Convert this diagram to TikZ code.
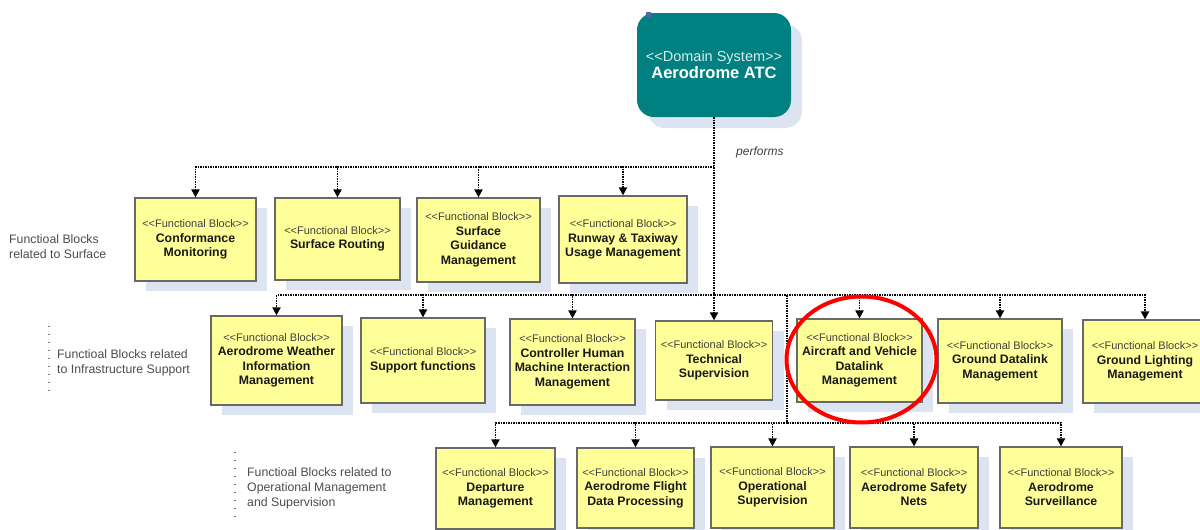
\documentclass[tikz,border=0pt]{standalone}
\usepackage{fontspec}
\setmainfont{Liberation Sans}
\usetikzlibrary{arrows.meta,shadows}
\definecolor{domteal}{RGB}{0,128,128}
\definecolor{fbyellow}{RGB}{255,255,153}
\definecolor{fbline}{RGB}{105,105,105}
\definecolor{shade}{RGB}{220,227,241}
\definecolor{marker}{RGB}{85,100,160}
\newcommand{\fbk}{{\mdseries\fontsize{11}{14.5}\selectfont\color{black!75}<\kern0pt<Functional Block>\kern0pt>}\\}
\begin{document}
\begin{tikzpicture}[x=1pt, y=-1pt, >={Triangle[width=8pt,length=8pt]},
      dom/.style={fill=domteal, rounded corners=17pt, minimum width=154pt, minimum height=104pt,
        drop shadow={shadow xshift=11pt, shadow yshift=-11pt, fill=shade, opacity=1}},
      domtext/.style={align=center, inner sep=0pt, text=domteal!15, font=\fontsize{14.5}{17}\selectfont},
      fb/.style={draw=fbline, line width=1.2pt, fill=fbyellow, align=center, inner sep=2pt,
        font=\fontsize{12.3}{14.5}\selectfont\bfseries, text=black!90,
        drop shadow={shadow xshift=11pt, shadow yshift=-10pt, fill=shade, opacity=1}},
      link/.style={line width=1.9pt, dash pattern=on 1.5pt off 1pt},
      side/.style={anchor=west, align=left, inner sep=0pt, text=black!70, font=\fontsize{12.3}{15.2}\selectfont},
      sidedots/.style={black!55, line width=1.4pt, dash pattern=on 1.4pt off 6.6pt}]
    \useasboundingbox (0,0) rectangle (1200,530);
    \clip (0,0) rectangle (1200,530);
    \node[dom] (dom) at (714,65) {};
    \node[domtext] (domt) at (714,64.5) {<\kern0pt<Domain System>\kern0pt>\\{\fontsize{16.5}{17}\selectfont\bfseries\color{white}Aerodrome ATC}};
    \fill[marker] (646,12) rectangle (651,17);
    \node[anchor=base west, inner sep=0pt, text=black!75, font=\fontsize{12}{14}\selectfont\itshape] (perf) at (736,155) {performs};
    \node[fb, minimum width=121pt, minimum height=83pt] (cm) at (195.5,239.5) {\fbk Conformance\\Monitoring};
    \node[fb, minimum width=125pt, minimum height=82pt] (sr) at (337.5,239) {\fbk Surface Routing};
    \node[fb, minimum width=123pt, minimum height=84pt] (sg) at (478.5,240) {\fbk Surface\\Guidance\\Management};
    \node[fb, minimum width=128pt, minimum height=87pt] (rt) at (623,239.5) {\fbk Runway \& Taxiway\\Usage Management};
    \node[fb, minimum width=131pt, minimum height=89pt] (aw) at (276.5,360.5) {\fbk Aerodrome Weather\\Information\\Management};
    \node[fb, minimum width=124pt, minimum height=85pt] (sf) at (423,360.5) {\fbk Support functions};
    \node[fb, minimum width=125pt, minimum height=86pt] (ch) at (572.5,362) {\fbk Controller Human\\Machine Interaction\\Management};
    \node[fb, minimum width=117pt, minimum height=79pt] (ts) at (714,360.5) {\fbk Technical\\Supervision};
    \node[fb, minimum width=125pt, minimum height=83pt] (av) at (859.5,360.5) {\fbk Aircraft and Vehicle\\Datalink\\Management};
    \node[fb, minimum width=124pt, minimum height=84pt] (gd) at (1000,361) {\fbk Ground Datalink\\Management};
    \node[fb, minimum width=124pt, minimum height=83pt] (gl) at (1145,361.5) {\fbk Ground Lighting\\Management};
    \node[fb, minimum width=119pt, minimum height=81pt] (dp) at (495.5,488.5) {\fbk Departure\\Management};
    \node[fb, minimum width=117pt, minimum height=80pt] (fd) at (635.5,488) {\fbk Aerodrome Flight\\Data Processing};
    \node[fb, minimum width=123pt, minimum height=81pt] (os) at (772.5,487.5) {\fbk Operational\\Supervision};
    \node[fb, minimum width=128pt, minimum height=81pt] (sn) at (914,487.5) {\fbk Aerodrome Safety\\Nets};
    \node[fb, minimum width=122pt, minimum height=81pt] (su) at (1061,487.5) {\fbk Aerodrome\\Surveillance};
    \node[side] (s1) at (9,246.5) {Functioal Blocks\\related to Surface};
    \node[side] (s2) at (57,362.5) {Functioal Blocks related\\to Infrastructure Support};
    \node[side] (s3) at (247,488.5) {Functioal Blocks related to\\Operational Management\\and Supervision};
    \draw[sidedots] (49,326) -- (49,396);
    \draw[sidedots] (235,452) -- (235,522);
    \coordinate (r1) at (714,167);
    \coordinate (r2) at (714,295);
    \coordinate (b3) at (787,295);
    \coordinate (r3) at (787,423);
    \draw[link, ->] (dom) -- (ts);
    \draw[link, ->] (r1) -| (cm);
    \draw[link, ->] (r1) -| (sr);
    \draw[link, ->] (r1) -| (sg);
    \draw[link, ->] (r1) -| (rt);
    \draw[link, ->] (r2) -| (aw);
    \draw[link, ->] (r2) -| (sf);
    \draw[link, ->] (r2) -| (ch);
    \draw[link, ->] (r2) -| (av);
    \draw[link, ->] (r2) -| (gd);
    \draw[link, ->] (r2) -| (gl);
    \draw[link] (b3) -- (r3);
    \draw[link, ->] (r3) -| (dp);
    \draw[link, ->] (r3) -| (fd);
    \draw[link, ->] (r3) -| (os);
    \draw[link, ->] (r3) -| (sn);
    \draw[link, ->] (r3) -| (su);
    \draw[red, line width=4pt] (861.5,359.5) ellipse [x radius=75, y radius=63];
  \end{tikzpicture}
\end{document}
